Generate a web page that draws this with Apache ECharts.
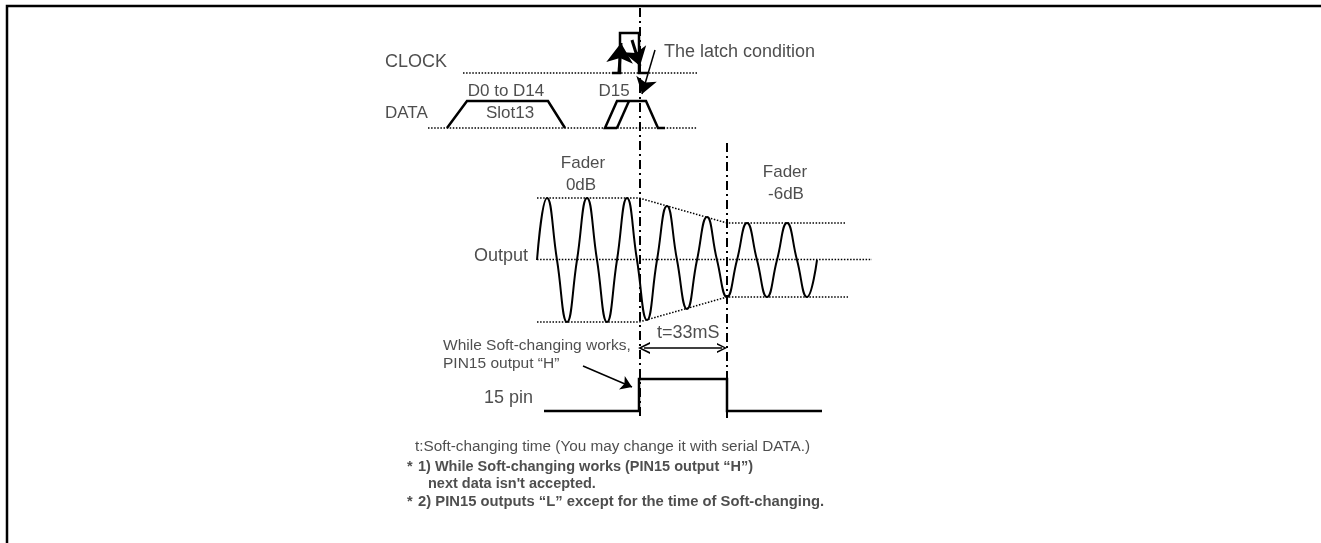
<!DOCTYPE html>
<html><head><meta charset="utf-8">
<script src="https://cdn.jsdelivr.net/npm/echarts@6/dist/echarts.min.js"></script>
<style>html,body{margin:0;padding:0;background:#fff}#c{width:1321px;height:543px}</style>
</head><body><div id="c"></div>
<script>
// ---------- DATA (x = time position, y = signal level, diagram units) ----------
const clockX = [612, 620, 620, 639, 639, 648];
const clockY = [73, 73, 33, 33, 73, 73];
const slotX = [447, 467, 548, 565];
const slotY = [128, 101, 101, 128];
const d15X = [617, 605, 617, 646, 658, 665];
const d15Y = [128, 128, 101, 101, 128, 128];
const d15InnerX = [617, 629];
const d15InnerY = [128, 101];
// Output waveform: zero crossings and extremes
const waveX = [537,547,557,567,577,587,597,607,617,627,637,647,657,667,677,687,697,707,717,727,737,747,757,767,777,787,797,807,817];
const waveY = [260,198,260,322,260,198,260,322,260,198,260,320,260,206,260,309,260,217,260,297,260,223,260,297,260,223,260,297,260];
const upperEnvX = [537, 639, 727, 845];
const upperEnvY = [198, 198, 223, 223];
const lowerEnvX = [537, 639, 727, 848];
const lowerEnvY = [322, 322, 297, 297];
const centerX = [537, 872];
const centerY = [259.5, 259.5];
const pinX = [544, 639, 639, 727, 727, 822];
const pinY = [411, 411, 379, 379, 411, 411];
const clockRefX = [463, 697];
const clockRefY = [73, 73];
const dataRefX = [428, 697];
const dataRefY = [128, 128];
const latchMarkerX = [640, 640];
const latchMarkerY = [8, 418];
const endMarkerX = [727, 727];
const endMarkerY = [143, 418];
const frameX = [1321, 7, 7];
const frameY = [6, 6, 543];
// arrows: [from, to]
const clockUpArrow = [[619, 72], [621, 43]];
const clockDownArrow = [[632, 40], [640, 66]];
const latchPointer = [[655, 50], [642, 94]];
const notePointer = [[583, 366], [632, 387]];
const tSpan = [[644, 348], [722, 348]];

// ---------- TEXT ----------
const labelTexts = [
  'CLOCK', 'The latch condition', 'D0 to D14', 'D15', 'DATA', 'Slot13',
  'Fader', '0dB', 'Fader', '-6dB', 'Output', 't=33mS',
  'While Soft-changing works,', 'PIN15 output \u201cH\u201d', '15 pin',
  't:Soft-changing time (You may change it with serial DATA.)',
  '*', '1) While Soft-changing works (PIN15 output \u201cH\u201d)',
  'next data isn\'t accepted.',
  '*', '2) PIN15 outputs \u201cL\u201d except for the time of Soft-changing.'
];

// ---------- LAYOUT (anchor, alignment, font size, weight) ----------
const labelLayout = [
  [385, 62, 'left', 18, 'normal'],
  [664, 52, 'left', 18, 'normal'],
  [506, 91, 'center', 17, 'normal'],
  [614, 91, 'center', 17, 'normal'],
  [385, 113, 'left', 17, 'normal'],
  [510, 113, 'center', 17, 'normal'],
  [583, 163, 'center', 17, 'normal'],
  [581, 185, 'center', 17, 'normal'],
  [785, 172, 'center', 17, 'normal'],
  [786, 194, 'center', 17, 'normal'],
  [528, 256, 'right', 18, 'normal'],
  [657, 333, 'left', 18, 'normal'],
  [443, 346, 'left', 15.5, 'normal'],
  [443, 364, 'left', 15.5, 'normal'],
  [533, 398, 'right', 18, 'normal'],
  [415, 447, 'left', 15.3, 'normal'],
  [407, 467, 'left', 14.5, 'bold'],
  [418, 467, 'left', 14.5, 'bold'],
  [428, 484, 'left', 14.5, 'bold'],
  [407, 502, 'left', 14.5, 'bold'],
  [418, 502, 'left', 14.8, 'bold']
];

const pts = (xs, ys) => xs.map((x, i) => [x, ys[i]]);
const INK = '#000';
const TXT = '#222';
const FONT = '"Liberation Sans", Arial, sans-serif';

function poly(name, xs, ys, width, type, extra) {
  return Object.assign({
    type: 'line', name, data: pts(xs, ys), symbol: 'none', showSymbol: false,
    silent: true, animation: false, clip: false,
    lineStyle: { color: INK, width, type: type || 'solid', cap: 'butt', join: 'miter' }
  }, extra || {});
}
function arrow(name, coords, width, symbols, size) {
  return {
    type: 'lines', name, coordinateSystem: 'cartesian2d', silent: true, animation: false,
    symbol: symbols, symbolSize: size,
    lineStyle: { color: INK, width, opacity: 1, curveness: 0 },
    data: [{ coords }]
  };
}
const DOT = [1.5, 1.6];
const DASHDOT = [9, 4, 2, 4];
const chevron = 'path://M0,12 L6,0 L12,12 L10,12 L6,3.5 L2,12 Z';

const textData = labelTexts.map((t, i) => {
  const L = labelLayout[i];
  return {
    value: [L[0], L[1]],
    label: {
      show: true, position: 'inside', formatter: t, align: L[2], verticalAlign: 'middle',
      fontSize: L[3], fontWeight: L[4], fontFamily: FONT, color: TXT
    }
  };
});

const option = {
  animation: false,
  grid: { left: 0, right: 0, top: 0, bottom: 0 },
  xAxis: { type: 'value', min: 0, max: 1321, show: false },
  yAxis: { type: 'value', min: 0, max: 543, inverse: true, show: false },
  series: [
    poly('frame', frameX, frameY, 2.5),
    poly('clockRef', clockRefX, clockRefY, 1.5, DOT),
    poly('dataRef', dataRefX, dataRefY, 1.5, DOT),
    poly('clock', clockX, clockY, 2.5),
    poly('slot13', slotX, slotY, 2.5),
    poly('d15', d15X, d15Y, 2.5),
    poly('d15inner', d15InnerX, d15InnerY, 2.5),
    poly('center', centerX, centerY, 1.5, DOT),
    poly('upperEnv', upperEnvX, upperEnvY, 1.5, DOT),
    poly('lowerEnv', lowerEnvX, lowerEnvY, 1.5, DOT),
    poly('wave', waveX, waveY, 2, 'solid', { smooth: 0.5 }),
    poly('pin', pinX, pinY, 2.5),
    poly('latch', latchMarkerX, latchMarkerY, 2, DASHDOT),
    poly('end', endMarkerX, endMarkerY, 2, DASHDOT),
    arrow('clockUp', clockUpArrow, 3, ['none', 'arrow'], [14, 20]),
    arrow('clockDown', clockDownArrow, 3, ['none', 'arrow'], [13, 18]),
    arrow('latchPtr', latchPointer, 1.5, ['none', 'arrow'], [11, 16]),
    arrow('notePtr', notePointer, 1.5, ['none', 'arrow'], [8, 11]),
    arrow('tSpan', tSpan, 1.5, [chevron, chevron], [12, 10]),
    {
      type: 'scatter', name: 'labels', symbolSize: 0, silent: true, animation: false,
      data: textData, z: 10
    }
  ]
};
echarts.init(document.getElementById('c'), null, { renderer: 'canvas' }).setOption(option);
</script>
</body></html>
